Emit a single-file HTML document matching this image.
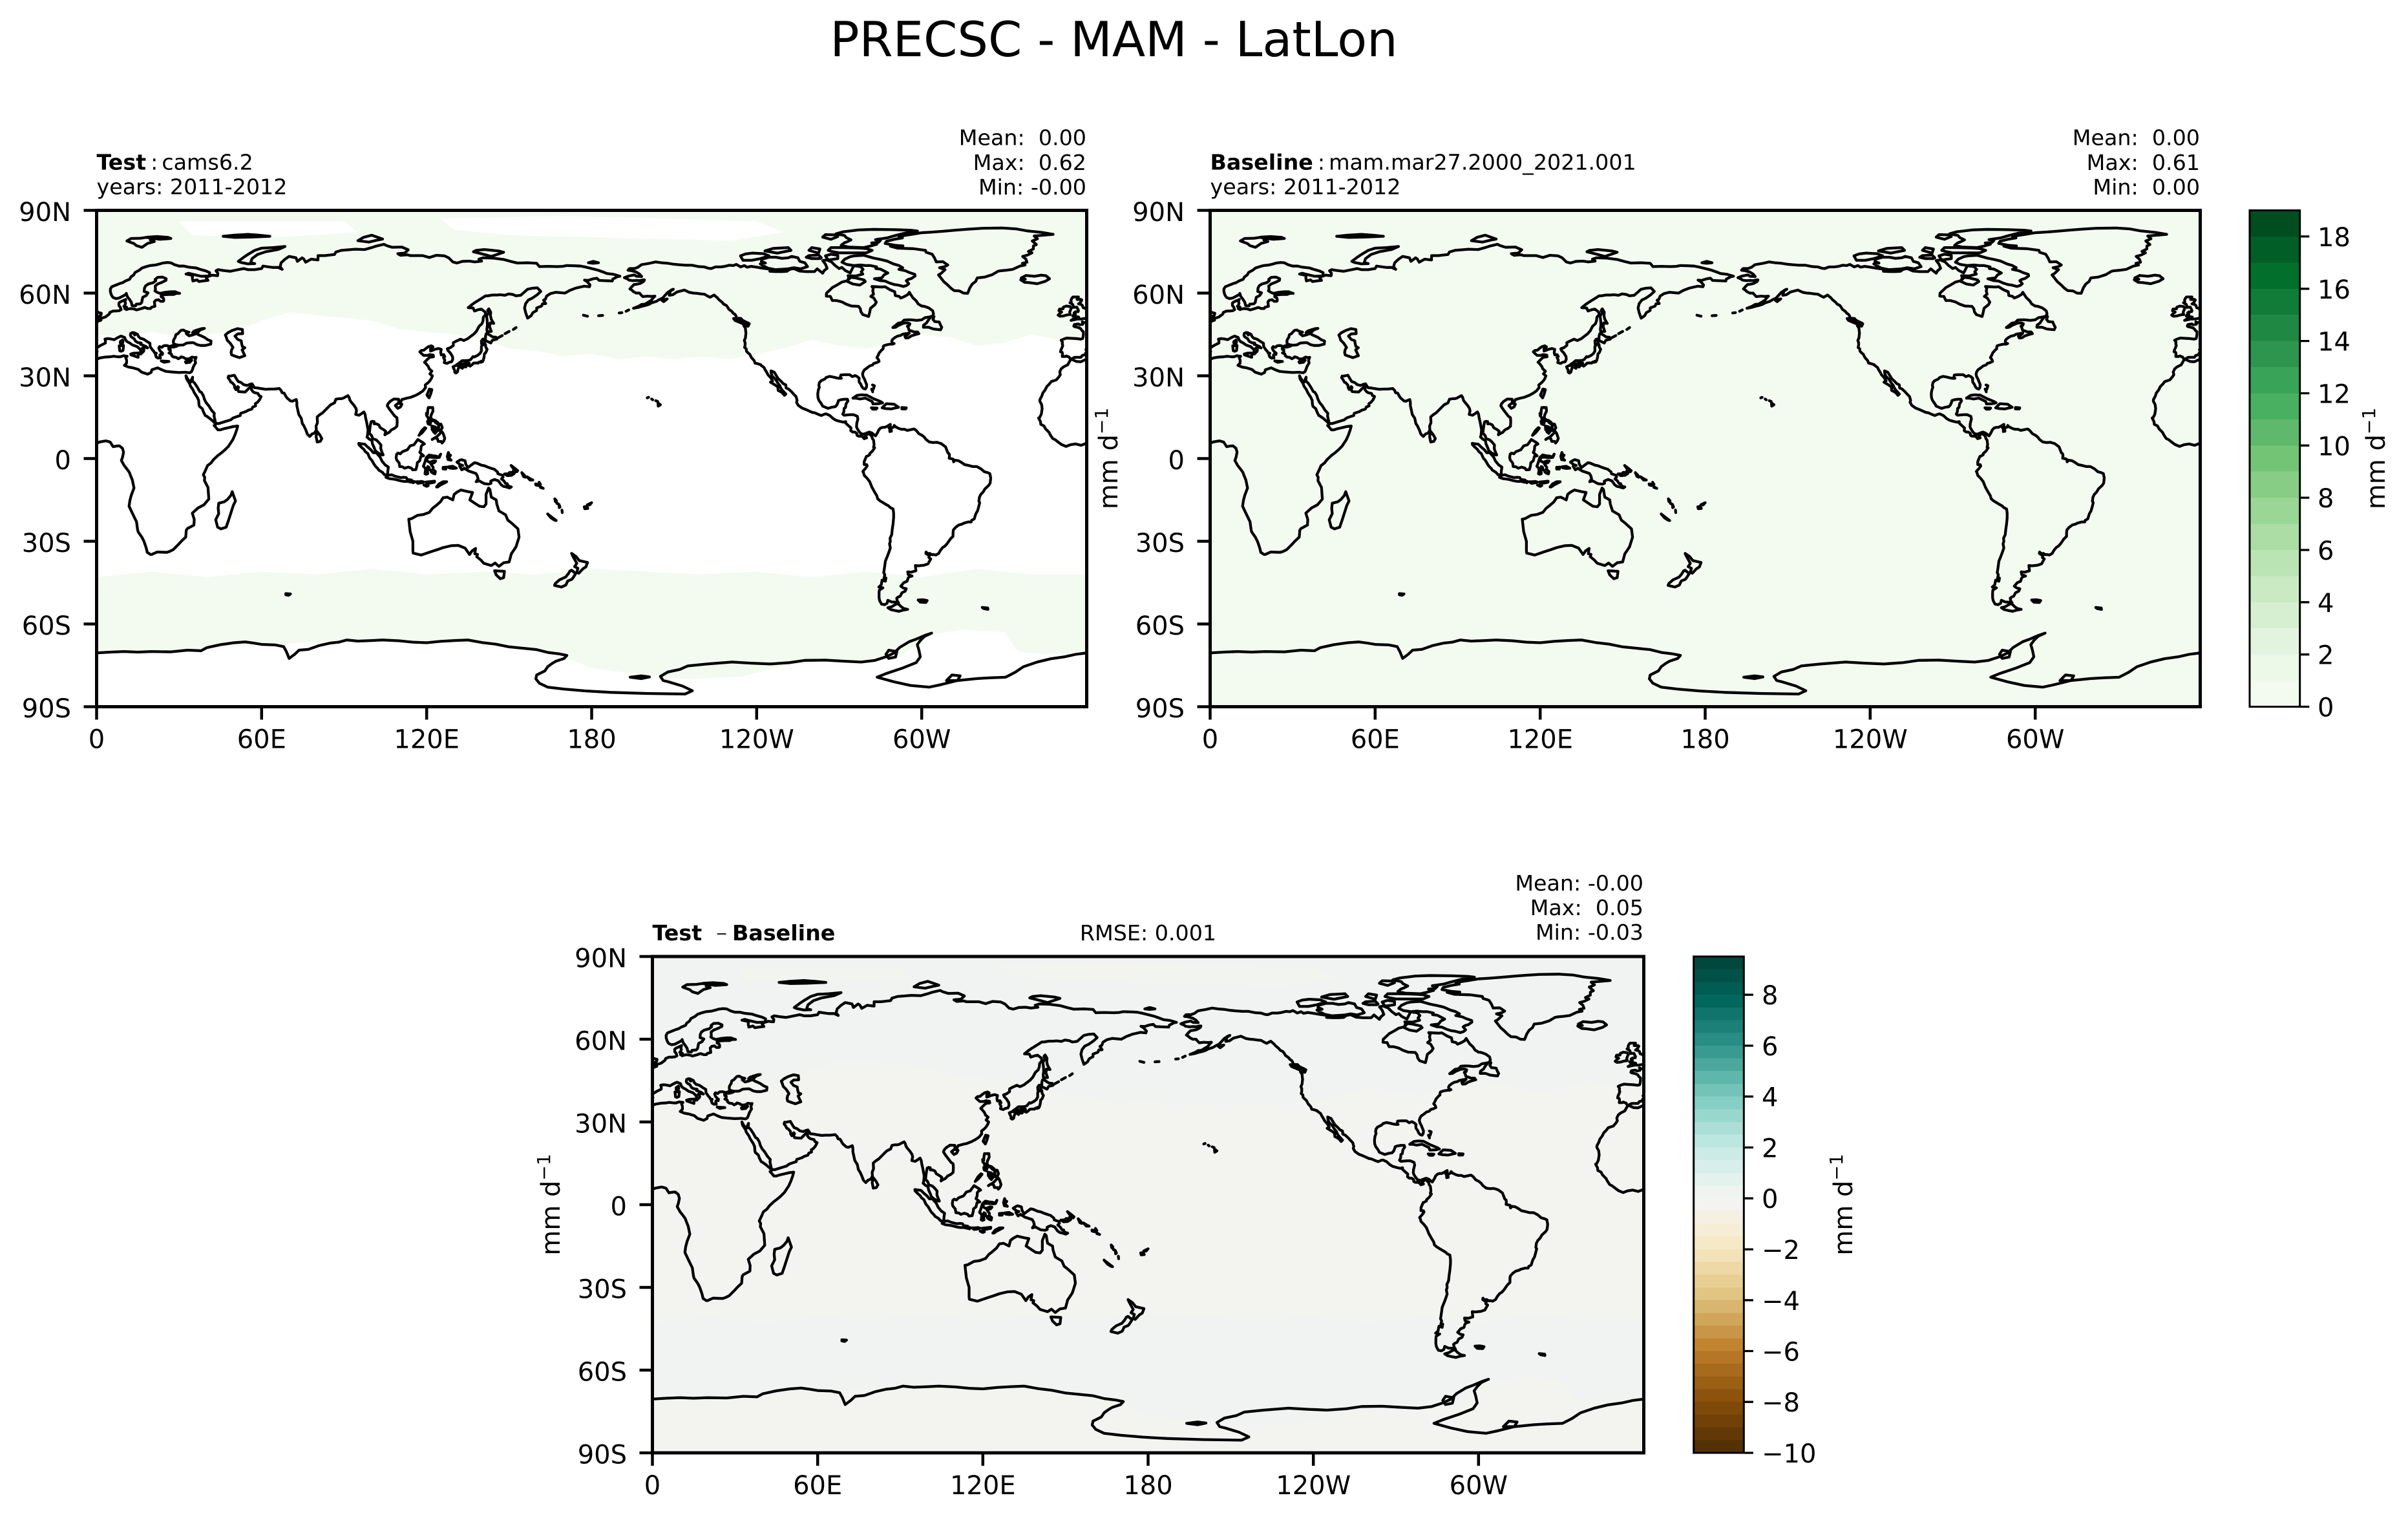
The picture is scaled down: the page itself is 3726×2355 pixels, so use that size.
<!DOCTYPE html>
<html><head><meta charset="utf-8"><style>
html,body{margin:0;padding:0;background:#fff}
svg{display:block}
text{font-family:"DejaVu Sans","Liberation Sans",sans-serif;fill:#000}
</style></head><body>
<svg xmlns="http://www.w3.org/2000/svg" xmlns:xlink="http://www.w3.org/1999/xlink" width="3726" height="2355" viewBox="0 0 3726 2355">
<rect x="0" y="0" width="3726" height="2355" fill="#fff"/>
<defs>
<clipPath id="cp1"><rect x="149.5" y="325.5" width="1532" height="768"/></clipPath>
<clipPath id="cp2"><rect x="1872.5" y="325.5" width="1532" height="768"/></clipPath>
<clipPath id="cp3"><rect x="1009.5" y="1480" width="1534" height="768"/></clipPath>
<g id="coast" fill="none" stroke="#000" stroke-width="1.0" stroke-linejoin="round" stroke-linecap="round">
<polyline points="32.3,31.3 29.9,31.2 27.2,31.4 25.2,31.6 23.9,32.1 22.2,32.9 20.1,32.2 19.8,31.2 18.6,30.6 16.4,31.3 15.2,32.3 13.2,32.9 11.5,33.2 10.1,33.8 10.9,34.6 10.9,35.7 10.6,36.5 11.1,37.1 10.2,37.2 9.8,37.3 8.6,36.9 7.7,36.9 6.2,37.1 4.9,36.9 3.1,36.8 1.3,36.5 -0.6,35.8 -2.1,35.1 -3.7,35.2 -5.3,35.9 -5.9,35.8 -6.4,34.9 -6.9,34.0 -8.5,33.2 -9.3,32.5 -9.8,31.4 -9.6,30.4 -10.2,29.5 -11.1,28.5 -12.9,27.9 -13.6,27.0 -14.5,26.1 -15.1,24.9 -16.0,23.7 -16.3,22.7 -17.0,21.4 -17.05,20.8 -16.4,19.6 -16.2,18.1 -16.5,16.1 -17.1,14.9 -17.5,14.7 -16.8,13.4 -16.7,12.4 -15.5,11.8 -15.0,10.8 -13.7,9.5 -13.2,8.5 -12.4,7.3 -11.4,6.8 -10.8,6.3 -9.2,5.1 -7.5,4.4 -5.9,5.0 -4.0,5.3 -2.0,4.8 -0.2,5.5 1.1,6.0 2.7,6.3 3.4,6.4 4.9,6.0 6.0,4.3 7.1,4.5 8.3,4.6 9.4,3.7 9.8,2.3 9.4,0.4 9.0,-0.7 10.0,-2.5 11.1,-3.9 11.9,-5.0 12.3,-6.1 13.0,-7.8 13.2,-8.8 13.6,-10.7 12.6,-13.3 12.1,-15.2 11.8,-17.3 12.6,-19.0 13.9,-21.7 14.5,-22.9 14.9,-25.8 15.1,-26.6 16.5,-28.6 17.2,-30.0 17.9,-32.0 18.2,-33.1 18.4,-34.0 19.6,-34.8 20.0,-34.8 22.0,-33.9 24.7,-34.0 25.6,-34.0 26.5,-33.7 27.9,-33.0 29.6,-31.3 30.9,-29.9 32.4,-28.5 32.6,-26.0 33.0,-25.4 35.4,-24.1 35.5,-22.1 34.8,-19.8 36.9,-17.9 39.0,-16.8 40.8,-14.7 40.5,-10.5 39.2,-8.0 39.3,-6.8 38.8,-5.9 39.7,-4.0 40.3,-2.6 41.6,-1.6 42.5,-0.4 44.1,1.1 45.3,2.0 46.6,3.1 48.0,4.5 48.5,5.3 49.5,6.8 50.3,8.6 51.0,10.6 51.3,11.8 49.7,11.6 48.0,11.2 45.9,10.7 45.0,10.4 44.1,10.4 43.2,11.5 42.7,12.0 43.3,12.4 43.1,12.7 42.6,13.3 41.2,14.5 40.1,15.3 39.5,15.6 38.9,16.8 38.4,18.1 37.4,18.9 37.2,19.6 37.1,21.1 36.6,22.2 35.5,23.9 35.0,25.0 34.1,26.3 33.8,27.2 32.7,28.9 32.5,30.0"/>
<polyline points="32.5,30.0 32.9,29.2 33.6,28.2 34.3,27.8 34.5,28.6 34.9,29.5 34.8,28.1 35.6,27.4 36.6,25.9 37.5,24.3 38.1,24.0 38.8,22.8 39.2,21.5 39.8,20.3 40.8,19.1 41.8,17.5 42.8,16.4 42.7,15.4 43.0,14.1 43.3,12.7 44.5,12.7 45.1,12.9 46.7,13.4 48.7,14.0 49.6,14.7 51.0,15.2 52.2,15.6 52.4,16.4 54.2,17.0 55.3,17.6 56.4,17.9 56.8,18.7 57.8,19.1 57.7,19.9 58.5,20.4 59.3,21.4 59.8,22.5 59.0,22.9 58.7,23.6 57.4,23.9 56.8,24.3 56.3,25.0 56.4,26.3 56.0,26.0 55.5,25.6 54.7,24.8 54.0,24.1 52.6,24.2 51.6,24.3 51.3,25.0 51.6,25.8 51.3,26.1 50.8,25.5 50.6,25.0 50.2,25.7 50.1,26.6 49.3,27.5 48.8,27.7 48.4,28.5 47.8,29.3 48.0,29.9 48.6,29.9 49.5,30.1 50.1,30.2 50.9,28.8 51.5,27.9 52.5,27.6 53.5,26.8 54.7,26.5 55.7,26.9 56.5,27.1 57.4,25.7 58.5,25.6 59.6,25.4 61.5,25.1 62.9,25.2 64.5,25.2 66.4,25.4 67.1,24.7 67.4,23.9 68.2,23.7 68.8,22.6 69.2,22.0 70.5,20.9 71.2,20.8 72.6,21.4 72.8,20.4 72.8,19.2 73.5,16.0 74.4,14.6 74.8,12.7 75.4,11.8 76.1,10.3 76.6,8.9 77.5,8.0 78.3,8.9 79.2,9.2 79.9,10.3 79.8,11.8 80.3,13.0 80.2,15.1 81.0,15.8 82.2,16.6 83.9,18.3 85.1,19.5 86.5,20.2 87.0,21.5 88.0,21.7 88.9,21.7 89.7,21.9 90.6,22.4 91.4,22.8 91.8,22.2 92.1,21.2 92.4,20.7 92.9,20.1 93.5,19.4 94.3,18.2 94.5,17.3 94.2,16.0 95.4,15.7 96.5,16.4 97.2,16.9 97.6,16.1 97.8,14.8 98.2,13.1 98.5,11.4 98.7,10.4 98.5,8.4 98.3,7.8 99.2,7.0 100.1,6.5 100.3,5.3 100.9,4.0 101.3,2.9 102.1,2.2 103.4,1.4 104.2,1.3 103.6,2.7 103.3,3.7 103.4,4.9 102.4,6.1 101.6,6.8 100.4,7.2 100.0,8.3 99.2,9.2 99.3,10.4 99.5,11.9 99.8,13.3 100.3,13.5 100.9,13.4 100.9,12.6 101.7,12.6 102.6,12.2 103.1,11.2 104.3,10.5 105.1,9.9 104.8,8.6 105.4,9.0 106.4,9.5 107.2,10.4 108.4,11.0 109.2,11.7 109.3,13.4 109.2,14.8 108.4,15.4 107.4,16.7 106.4,18.0 105.7,19.1 105.9,19.8 106.7,20.7 108.1,21.6 109.8,21.5 109.9,20.3 110.5,20.3 111.0,21.4 112.8,21.9 114.2,22.2 116.0,22.9 117.3,23.6 118.6,24.5 119.6,25.7 119.5,26.7 120.4,27.4 121.1,28.1 121.7,29.0 122.1,30.0 121.2,30.7 121.9,31.7 120.9,32.6 120.6,33.4 119.6,34.6 119.2,34.9 120.4,36.1 121.1,36.7 122.5,36.9 122.4,37.5 121.1,37.7 120.3,37.4 118.9,37.4 118.1,38.1 117.5,38.7 118.1,39.2 119.0,39.3 119.7,39.9 120.7,40.6 121.7,40.9 122.3,40.5 121.4,39.8 121.4,39.0 122.1,39.2 122.9,39.6 124.3,39.9 125.3,39.6 125.1,38.5 125.3,37.6 126.2,37.7 126.6,37.0 126.1,36.7 126.6,35.7 126.4,34.8 127.4,34.5 128.2,34.9 129.1,35.1 129.5,36.0 129.4,37.0 128.6,38.3 127.8,39.1 127.5,39.8 128.6,40.2 129.7,41.0 129.7,42.0 130.8,42.6 131.5,42.9 132.3,43.3 133.5,42.8 135.0,43.5 135.5,43.9 137.2,45.2 138.2,46.3 138.6,47.1 139.1,48.0 140.1,48.9 140.5,50.0 140.6,51.2 141.4,52.2 141.3,53.1 139.9,54.2 138.8,54.0 137.4,53.5 136.9,54.6 135.1,54.7 136.7,56.0 137.9,56.8 139.5,57.8 141.4,59.0 142.2,59.0 143.9,59.3 145.5,59.3 146.8,59.4 148.5,59.2 149.8,59.7 151.3,59.5 152.5,59.0 154.2,59.2 155.0,59.9 156.7,61.4 158.6,61.8 160.3,61.9 161.5,60.6 160.2,59.4 158.5,58.2 157.0,57.5 156.0,56.2 155.6,54.6 156.0,52.9 156.7,50.9 158.0,51.8 158.6,52.9 160.0,53.7 160.0,54.6 161.8,55.3 162.1,56.1 163.3,56.2 162.5,57.4 163.2,57.8 163.6,58.9 165.0,59.8 167.0,60.3 170.3,60.0 172.1,61.0 174.2,61.8 177.3,62.5 179.2,62.3 179.4,63.0 178.3,64.2 177.4,64.7 178.7,64.6 180.6,65.2 181.9,65.4 182.7,64.6 184.5,64.5 187.5,64.4 187.7,65.1 188.5,65.5 189.5,66.0 190.3,66.1 188.0,66.8 185.6,67.1 184.3,67.6 182.0,68.4 180.0,68.9 178.0,69.4 176.0,69.8 174.0,69.9 171.0,70.0 169.5,69.7 167.5,69.6 164.0,69.7 161.0,69.6 160.0,70.8 157.0,71.0 153.0,70.9 150.5,71.5 148.0,72.2 144.0,72.7 140.5,72.8 139.0,72.3 140.0,71.6 137.5,71.3 135.5,71.6 133.0,71.5 131.0,70.9 129.5,71.3 128.0,72.8 126.5,73.5 123.5,73.7 121.0,72.9 118.5,73.6 114.0,73.6 113.0,73.9 110.5,73.7 109.5,74.3 112.0,74.5 113.3,75.7 111.0,76.7 107.5,76.6 105.5,77.2 104.5,77.7 101.5,77.0 100.0,76.5 97.5,75.8 94.0,75.9 89.0,75.5 87.0,74.9 86.5,74.0 83.0,73.6 80.5,73.6 80.5,72.0 78.0,72.3 76.0,71.2 75.3,72.4 74.7,72.8 73.0,71.5 72.5,72.8 70.0,73.3 68.5,72.3 67.1,71.0 66.7,69.5 67.5,68.6 66.0,69.3 64.0,69.3 60.5,69.8 60.0,68.9 57.5,68.5 55.0,68.5 53.5,68.9 52.0,68.6 48.5,67.9 46.0,68.2 44.2,68.5 43.4,68.1 44.1,67.2 44.0,66.3 42.0,66.5 40.5,66.0 39.8,65.6 40.5,64.6 39.5,64.5 37.2,64.2 36.5,64.8 35.0,64.4 34.8,65.5 34.9,66.4 32.5,66.9 33.5,67.2 35.0,66.8 38.0,66.1 41.0,66.2 41.1,67.4 39.8,68.0 38.0,68.5 36.2,69.1 33.5,69.4 31.8,69.8 30.0,69.8 28.3,70.3 27.0,71.0 25.7,71.1 24.0,70.9 23.0,70.6 21.5,70.2 19.5,70.0 18.0,69.6 16.5,69.1 15.5,68.3 14.0,67.5 13.5,66.6 12.5,65.9 12.0,65.0 10.5,64.4 9.5,63.8 8.5,63.5 7.0,62.9 5.5,62.3 5.0,61.5 5.0,60.5 5.3,59.5 5.6,58.9 6.0,58.4 7.0,58.0 8.2,58.2 9.5,58.9 10.5,59.4 10.8,59.9 11.0,59.2 11.2,58.7 11.9,57.8 12.6,56.7 12.9,55.5 13.4,55.4 14.2,55.4 14.4,56.0 15.9,56.1 16.4,56.6 16.6,57.7 16.8,58.5 18.0,59.1 18.7,60.1 17.3,60.6 17.4,61.8 17.8,62.6 18.8,63.3 20.6,63.8 21.5,64.5 21.3,65.0 22.2,65.7 24.0,65.8 25.3,65.2 25.2,64.6 23.5,63.8 22.2,63.3 21.3,62.6 21.4,61.4 21.2,60.8 22.0,60.3 23.0,59.9 25.0,60.3 27.0,60.5 28.5,60.5 29.5,60.1 30.2,59.9 29.0,59.9 28.0,59.5 26.5,59.5 24.5,59.4 23.5,59.2 23.5,58.6 24.2,58.3 24.4,57.8 24.4,57.2 24.1,57.0 23.3,57.0 22.5,57.6 21.5,57.4 21.0,56.8 21.1,56.0 21.2,55.2 20.0,54.9 19.6,54.4 18.6,54.4 17.5,54.8 16.0,54.3 14.5,53.9 13.8,54.2 12.5,54.4 11.3,54.2 10.9,54.0 10.2,54.4 10.9,54.9 9.9,55.2 10.3,55.6 10.5,56.3 10.3,56.9 10.6,57.7 9.5,57.2 8.6,56.8 8.1,56.4 8.1,55.5 8.6,54.9 8.9,54.0 8.2,53.6 7.0,53.5 6.0,53.5 4.8,53.0 4.6,52.4 3.8,51.8 3.3,51.4 2.5,51.1 1.6,50.9 1.6,50.2 0.5,49.8 0.1,49.4 -1.0,49.3 -1.6,49.6 -1.4,48.7 -2.5,48.5 -3.0,48.8 -4.5,48.6 -4.7,48.0 -4.3,47.8 -3.0,47.5 -2.2,47.1 -1.8,46.5 -1.2,46.0 -1.2,45.0 -1.3,44.2 -1.5,43.5 -2.2,43.3 -3.8,43.5 -5.6,43.6 -7.2,43.7 -8.2,43.4 -9.3,42.9 -8.8,42.2 -8.9,41.6 -8.7,41.0 -9.0,40.2 -9.4,39.3 -9.5,38.7 -8.9,38.5 -8.8,37.9 -8.9,37.0 -7.9,37.0 -7.4,37.2 -6.4,36.8 -6.2,36.4 -5.6,36.0 -5.3,36.2 -4.4,36.7 -2.1,36.7 -1.6,37.4 -0.7,37.6 -0.3,38.4 0.2,38.8 -0.3,39.5 0.2,40.2 0.9,40.7 1.6,41.1 2.2,41.4 3.2,41.9 3.2,42.9 3.0,43.3 4.0,43.5 5.0,43.4 6.4,43.1 7.4,43.7 8.4,44.2 8.9,44.4 9.7,44.1 10.2,43.9 10.5,43.0 11.1,42.4 12.2,41.8 13.0,41.2 14.1,40.8 14.7,40.6 15.4,40.0 15.8,39.6 16.1,38.9 15.7,38.2 16.1,37.9 16.6,38.4 17.1,38.9 17.2,39.4 16.6,40.0 17.2,40.4 17.9,40.3 18.5,40.1 18.0,40.6 16.9,41.1 16.0,41.4 16.2,41.9 15.1,42.0 14.2,42.5 13.6,43.5 12.6,44.1 12.3,44.6 12.4,45.4 13.1,45.7 13.8,45.6 13.6,45.1 13.9,44.8 14.4,45.3 14.9,45.0 15.2,44.3 15.9,43.6 16.4,43.5 17.2,43.2 18.1,42.6 18.7,42.2 19.4,41.8 19.4,41.3 19.5,40.5 19.9,40.0 20.2,39.5 20.7,39.0 21.1,38.3 21.7,38.2 21.4,37.6 21.7,36.8 22.4,36.4 22.8,36.6 23.2,36.4 23.0,37.5 23.5,38.0 23.9,37.7 24.0,38.2 23.2,38.9 22.8,39.5 22.6,40.1 22.9,40.6 23.7,40.3 24.4,40.9 25.4,41.0 26.1,40.8 26.6,40.6 27.3,40.9 28.0,41.0 29.0,41.1 29.3,40.8 28.0,40.4 27.0,40.4 26.2,40.0 26.3,39.5 26.8,39.4 26.8,38.6 26.3,38.3 27.2,37.9 27.3,37.3 28.0,36.8 28.9,36.7 29.7,36.2 30.5,36.6 30.7,36.9 31.5,36.7 32.5,36.1 33.7,36.2 34.7,36.8 35.6,36.6 36.2,36.7 35.9,36.0 35.8,35.4 36.0,34.7 35.5,33.9 35.1,33.1 34.9,32.4 34.5,31.5 33.8,31.1 32.3,31.3"/>
<polyline points="-168.1,65.6 -166.5,66.2 -164.5,66.6 -163.7,66.1 -161.8,66.0 -162.6,66.9 -163.9,67.7 -165.4,68.1 -166.8,68.3 -166.2,68.9 -164.4,68.9 -163.1,69.4 -161.9,70.3 -159.0,70.8 -156.8,71.3 -154.6,71.0 -152.2,70.8 -150.4,70.5 -148.5,70.3 -145.8,70.1 -143.5,70.1 -141.0,69.6 -139.1,69.5 -137.5,69.0 -136.5,68.9 -135.0,69.5 -133.0,69.5 -131.5,69.7 -130.0,70.1 -128.5,70.0 -127.4,70.4 -125.8,69.5 -124.5,70.0 -123.5,69.4 -122.0,69.7 -120.0,69.4 -117.6,69.0 -116.0,68.8 -114.0,68.3 -115.2,67.9 -113.0,67.8 -110.8,67.8 -109.0,67.9 -108.0,68.6 -106.5,68.9 -104.5,68.0 -102.0,67.8 -99.0,67.8 -98.0,68.8 -96.0,67.2 -95.5,68.1 -94.4,69.0 -95.0,70.5 -96.0,71.8 -94.5,72.0 -92.8,71.3 -91.6,70.1 -90.0,68.9 -89.0,69.3 -87.8,68.2 -86.0,67.3 -84.7,69.9 -82.2,69.6 -81.3,68.6 -82.0,67.7 -81.4,66.9 -84.0,66.2 -86.8,66.3 -86.0,65.5 -87.0,64.5 -89.0,64.0 -91.0,62.8 -92.5,62.0 -93.5,61.0 -94.6,60.0 -94.7,58.9 -93.2,58.8 -92.5,57.3 -90.9,57.3 -89.0,56.8 -87.5,56.0 -85.5,55.3 -83.0,55.2 -82.3,54.3 -82.1,53.2 -81.4,52.2 -80.2,51.8 -79.3,51.5 -79.0,52.6 -78.6,54.5 -77.0,55.8 -76.5,56.7 -77.4,58.2 -78.5,58.8 -77.5,59.6 -77.8,60.8 -77.6,61.7 -78.1,62.4 -76.5,62.3 -74.5,62.2 -73.3,62.3 -71.5,61.2 -69.8,60.5 -69.6,59.1 -68.2,58.8 -67.6,58.2 -66.2,58.8 -65.0,59.5 -64.5,60.3 -64.0,59.5 -63.2,58.3 -62.0,57.2 -61.3,56.1 -60.0,55.3 -59.0,55.2 -57.4,54.6 -56.0,53.6 -55.7,52.5 -56.1,51.6 -57.4,51.3 -58.8,51.1 -60.0,50.3 -61.8,50.1 -63.8,50.3 -65.2,50.3 -66.4,50.2 -67.3,49.3 -68.5,49.1 -69.5,48.3 -70.5,47.5 -69.5,47.6 -68.2,48.4 -66.5,49.1 -65.1,49.2 -64.3,48.9 -64.5,48.3 -65.2,48.0 -64.8,47.3 -64.6,46.5 -63.8,46.3 -62.8,45.9 -61.5,45.9 -61.0,45.3 -62.5,44.9 -63.7,44.5 -64.8,43.8 -65.8,43.7 -66.1,44.3 -65.0,45.0 -64.5,45.5 -65.8,45.3 -66.9,45.1 -67.8,44.6 -68.8,44.4 -69.7,43.9 -70.6,43.2 -70.9,42.6 -70.6,41.8 -70.0,41.7 -70.5,41.5 -71.4,41.5 -72.9,41.2 -73.8,40.9 -74.0,40.5 -74.0,39.8 -74.7,39.2 -75.0,38.8 -75.4,38.4 -75.8,37.5 -76.0,37.1 -76.3,36.6 -75.7,35.9 -75.5,35.2 -76.4,34.8 -77.4,34.5 -77.9,33.9 -78.9,33.6 -79.9,32.8 -80.8,32.2 -81.3,31.4 -81.5,30.6 -81.3,29.7 -80.8,28.8 -80.5,28.0 -80.0,26.8 -80.1,25.8 -80.5,25.2 -81.2,25.4 -81.8,26.1 -82.1,26.9 -82.7,27.7 -82.8,28.5 -82.7,29.1 -83.4,29.7 -84.2,30.1 -85.2,29.7 -86.2,30.4 -87.5,30.4 -88.2,30.4 -89.4,30.3 -89.6,29.4 -89.2,29.1 -90.1,29.1 -91.2,29.3 -92.4,29.6 -93.5,29.8 -94.7,29.4 -95.3,28.8 -96.6,28.2 -97.2,27.5 -97.4,26.5 -97.2,25.9 -97.6,24.8 -97.8,23.4 -97.7,22.0 -97.3,21.0 -96.5,19.9 -96.0,19.0 -94.8,18.5 -94.0,18.2 -92.7,18.6 -91.4,18.8 -90.8,19.5 -90.4,20.5 -90.3,21.0 -89.5,21.3 -88.2,21.5 -87.0,21.5 -86.8,20.9 -87.5,19.8 -87.7,18.5 -88.2,18.2 -88.3,17.0 -88.7,16.1 -88.2,15.7 -87.4,15.8 -86.0,15.9 -84.7,15.9 -83.4,15.3 -83.2,14.3 -83.6,12.8 -83.7,11.5 -83.4,10.8 -82.9,10.0 -82.2,9.1 -81.2,8.8 -79.9,9.3 -79.0,9.6 -78.0,9.2 -77.4,8.7 -76.8,8.2 -76.0,9.5 -75.6,10.4 -74.9,11.1 -74.2,11.3 -73.4,11.3 -72.2,11.9 -71.4,12.4 -71.4,11.3 -71.9,11.1 -71.6,10.8 -71.6,9.8 -71.0,9.9 -71.2,11.0 -70.2,11.4 -70.0,12.0 -69.5,11.5 -68.3,10.9 -67.3,10.6 -66.2,10.6 -65.3,10.2 -64.3,10.4 -63.4,10.6 -62.7,10.7 -62.0,10.2 -61.0,9.0 -60.0,8.5 -59.1,7.8 -58.4,6.9 -57.2,6.0 -55.9,5.8 -54.5,5.9 -53.5,5.6 -52.9,5.4 -51.8,4.6 -51.3,4.2 -50.5,2.1 -50.0,1.7 -49.9,0.9 -50.0,0.1 -48.6,-0.2 -48.4,-1.2 -47.8,-0.6 -46.6,-0.8 -45.4,-1.5 -44.4,-2.2 -43.4,-2.4 -41.5,-2.9 -40.0,-2.9 -38.5,-3.7 -37.2,-4.8 -36.0,-5.1 -35.2,-5.5 -34.9,-7.1 -35.1,-8.9 -35.6,-9.7 -37.0,-11.0 -37.7,-12.2 -38.5,-13.0 -39.0,-14.0 -39.2,-15.5 -38.9,-16.0 -39.3,-17.6 -39.7,-19.0 -40.3,-20.0 -40.9,-21.9 -41.8,-22.4 -42.0,-23.0 -43.1,-23.0 -44.6,-23.4 -45.4,-23.8 -46.5,-24.1 -47.6,-24.9 -48.5,-25.9 -48.6,-27.0 -48.6,-28.2 -49.6,-29.2 -50.7,-30.8 -51.6,-31.8 -52.3,-32.2 -53.2,-33.3 -53.8,-34.4 -54.9,-35.0 -55.7,-34.8 -56.2,-34.9 -57.1,-34.4 -57.8,-34.5 -58.4,-33.9 -58.5,-34.4 -57.2,-35.3 -57.4,-35.9 -56.7,-36.4 -57.7,-38.2 -59.2,-38.7 -61.2,-38.9 -62.3,-38.8 -62.1,-40.7 -63.8,-41.2 -65.1,-41.1 -64.9,-42.1 -63.5,-42.6 -64.6,-42.9 -65.0,-43.5 -65.3,-44.5 -66.5,-45.0 -67.6,-46.3 -66.6,-47.0 -65.6,-47.2 -66.0,-48.1 -67.2,-48.7 -67.8,-49.9 -68.7,-50.3 -69.1,-50.7 -68.8,-51.8 -68.4,-52.3 -69.5,-52.1 -71.0,-52.0 -72.3,-51.4 -72.6,-52.5 -73.5,-53.0 -74.6,-52.8 -75.3,-51.5 -75.5,-50.4 -75.5,-48.7 -75.4,-47.7 -74.1,-46.9 -75.6,-46.6 -74.7,-45.8 -74.4,-44.1 -73.2,-44.5 -73.0,-43.3 -73.7,-43.4 -73.4,-42.1 -73.8,-41.4 -73.5,-39.4 -73.2,-37.2 -72.5,-35.5 -71.9,-33.9 -71.4,-32.4 -71.7,-30.9 -71.4,-30.1 -71.5,-28.9 -70.9,-27.6 -70.7,-25.7 -70.4,-23.6 -70.2,-21.4 -70.2,-19.8 -70.4,-18.3 -71.4,-17.8 -72.0,-17.2 -73.4,-16.4 -75.2,-15.3 -76.0,-14.6 -76.3,-13.5 -77.1,-12.2 -78.1,-10.4 -78.9,-8.4 -79.8,-7.2 -80.9,-6.1 -81.2,-5.0 -81.4,-4.7 -80.3,-3.4 -79.8,-2.7 -80.0,-2.2 -80.9,-2.2 -80.9,-1.1 -80.1,0.8 -79.5,1.0 -78.9,1.4 -78.9,1.8 -77.9,2.7 -77.1,3.9 -77.5,4.1 -77.3,5.0 -77.5,6.7 -77.9,7.2 -78.2,8.3 -78.5,8.4 -79.1,9.0 -79.6,8.9 -80.5,8.1 -80.0,7.5 -80.9,7.2 -81.7,8.1 -82.9,8.1 -83.5,8.4 -83.6,9.1 -84.3,9.6 -85.1,9.6 -85.8,10.1 -85.7,11.1 -86.5,11.8 -87.7,12.9 -87.6,13.4 -88.5,13.2 -89.8,13.5 -91.2,13.9 -92.2,14.5 -93.4,15.6 -94.7,16.2 -95.3,16.1 -96.5,15.6 -97.3,15.9 -98.9,16.6 -99.7,16.7 -101.7,17.6 -103.5,18.3 -104.9,19.3 -105.5,20.4 -105.3,21.1 -105.7,22.5 -106.4,23.2 -107.4,24.3 -108.4,25.2 -109.3,25.6 -109.4,26.7 -110.4,27.2 -111.0,27.9 -112.2,29.0 -113.1,30.5 -113.6,31.3 -114.8,31.8 -114.7,30.9 -114.3,29.8 -113.1,28.7 -112.4,27.5 -111.6,26.5 -111.3,25.7 -110.7,24.8 -110.2,24.3 -109.4,23.4 -109.9,22.9 -110.3,23.4 -111.0,24.1 -112.2,24.7 -112.3,26.0 -113.5,26.8 -114.2,27.2 -115.0,27.7 -114.2,28.1 -114.9,29.3 -115.9,30.4 -116.3,31.2 -117.0,32.3 -117.3,33.0 -118.4,33.8 -118.5,34.0 -119.6,34.4 -120.6,34.6 -120.9,35.5 -121.9,36.6 -122.4,37.6 -122.5,37.8 -123.0,38.2 -123.7,38.9 -123.8,39.8 -124.4,40.3 -124.2,41.1 -124.2,42.0 -124.5,42.8 -124.1,43.7 -123.9,45.5 -124.0,46.3 -124.1,47.3 -124.7,48.2 -123.1,48.0 -122.7,48.9 -123.2,49.2 -124.1,49.6 -125.2,50.2 -125.7,50.8 -127.3,50.9 -127.5,51.7 -127.9,52.3 -128.4,52.6 -129.1,53.4 -130.1,54.1 -130.5,54.8 -131.0,55.5 -132.0,56.0 -132.7,56.8 -133.7,57.6 -134.3,58.3 -135.5,59.3 -136.9,58.5 -137.8,58.9 -139.0,59.6 -140.3,59.7 -141.6,59.9 -143.0,60.0 -144.6,60.3 -146.3,61.1 -147.9,60.7 -149.0,60.4 -150.5,59.4 -151.8,59.2 -151.4,60.7 -150.3,61.4 -150.9,61.2 -152.4,60.2 -153.5,59.0 -154.2,58.2 -155.3,57.7 -156.5,57.0 -158.1,56.5 -159.2,55.9 -160.5,55.5 -161.8,55.2 -163.1,54.8 -164.8,54.5 -163.0,55.2 -161.8,55.9 -160.6,56.0 -159.6,56.6 -158.3,57.4 -157.6,58.3 -157.0,58.9 -158.4,58.8 -159.7,58.9 -161.4,58.7 -162.0,59.3 -162.6,60.0 -163.8,60.0 -164.9,60.6 -165.4,61.1 -166.1,61.5 -165.4,62.3 -164.6,63.1 -163.8,63.2 -162.3,63.5 -161.1,64.2 -160.8,64.8 -161.4,64.8 -162.7,64.5 -163.6,64.6 -165.0,64.5 -166.4,64.7 -166.9,65.1 -168.1,65.6"/>
<polygon points="-68.6,-52.6 -69.5,-52.9 -70.8,-53.7 -72.3,-54.1 -71.2,-54.8 -69.8,-55.1 -68.2,-55.4 -66.9,-55.0 -65.1,-54.7 -66.5,-54.4 -67.6,-53.6"/>
<polygon points="-61.3,-51.3 -59.5,-51.2 -58.0,-51.5 -58.5,-52.2 -60.5,-52.1"/>
<polygon points="-38.0,-54.0 -36.0,-54.2 -35.9,-54.7 -37.5,-54.4"/>
<polygon points="-73.3,78.0 -69.5,77.3 -66.8,77.1 -71.4,77.0 -68.8,76.3 -63,76.1 -58.6,75.5 -58.4,74.8 -56.2,74.1 -55.3,72.7 -54.7,71.3 -52.3,71.4 -50.5,70.2 -51.6,69.6 -53.5,69.2 -51.5,68.5 -53.0,67.1 -53.9,66.6 -53.4,66.0 -52.0,64.2 -50.6,63.0 -49.4,61.8 -48.2,60.9 -46.3,60.8 -44.8,60.0 -43.3,59.9 -43.0,60.6 -42.5,61.9 -41.6,63.3 -40.4,64.2 -39.8,65.5 -37.1,65.8 -34.3,66.7 -32.3,67.9 -31.4,68.1 -29.2,68.3 -26.9,68.6 -24.3,69.8 -22.4,70.2 -23.4,70.8 -21.7,71.2 -22.1,72.3 -23.3,73.3 -21.5,73.8 -19.9,74.6 -21.2,75.1 -19.4,76.0 -19.4,77.1 -18.3,77.6 -19.8,78.9 -17.9,79.7 -19.1,80.7 -15.6,81.0 -12.2,81.3 -16.3,82.0 -21.9,82.6 -25.8,83.3 -30.7,83.6 -38.0,83.5 -42.7,83.2 -46.6,82.9 -52.4,82.4 -56.6,82.1 -60.0,81.9 -63.6,81.3 -66.4,80.9 -68.3,80.2 -67.0,80.0 -70.0,79.5 -72.8,78.8"/>
<polygon points="-64.7,63.4 -65.4,62.8 -66.6,62.4 -68.5,62.9 -70.0,63.1 -71.8,63.7 -73.4,64.4 -75.0,64.5 -77.2,65.2 -74.5,65.5 -73.7,66.6 -72.3,67.3 -73.6,68.0 -75.0,68.7 -76.7,68.9 -76.4,69.5 -78.7,70.0 -80.4,70.0 -82.3,70.2 -84.7,70.0 -87.3,70.4 -89.0,71.2 -88.0,72.3 -86.0,73.2 -84.5,73.5 -81.0,73.7 -77.5,72.7 -75.0,72.2 -72.5,71.6 -70.3,70.6 -68.3,70.0 -66.9,69.2 -68.3,68.6 -65.9,68.1 -64.6,67.5 -62.5,66.8 -62.4,66.2 -63.7,65.3 -64.8,65.0 -65.6,64.5"/>
<polygon points="-79.3,76.9 -81.1,76.5 -86.6,76.7 -89.3,77.3 -88.2,78.2 -87.1,78.6 -85.7,79.3 -87.4,80.1 -88.1,80.9 -91.2,81.5 -88.7,82.2 -82.9,82.9 -77.5,83.1 -69.7,83.0 -63.9,82.8 -61.5,82.5 -66.3,81.7 -70.6,80.6 -72.6,80.0 -76.8,79.4 -75.0,79.1 -75.7,78.4 -78.2,78.2 -76.3,77.7"/>
<polygon points="-90.5,80.5 -93.0,79.5 -96.0,80.3 -95.0,81.2 -91.0,81.1"/>
<polygon points="-80.1,74.6 -85.0,74.6 -90.0,74.6 -92.2,75.0 -94.0,75.5 -93.0,76.5 -89.0,76.5 -85.4,76.4 -82.3,76.3 -80.0,76.1 -78.0,75.5"/>
<polygon points="-101.5,69.6 -104.0,68.8 -106.5,69.2 -108.6,68.8 -113.2,68.5 -115.8,69.0 -117.6,69.9 -118.7,70.6 -116.8,70.9 -118.3,71.5 -118.1,72.3 -115.5,73.0 -113.0,73.0 -110.8,72.6 -108.5,72.8 -107.3,73.3 -105.0,72.8 -104.3,71.5 -102.5,71.0"/>
<polygon points="-121.8,71.9 -125.0,71.9 -125.9,73.5 -124.0,74.2 -121.5,74.5 -117.5,74.3 -115.5,73.5 -118.7,72.5"/>
<polygon points="-97,72.5 -100,72.5 -102,73.0 -101,73.6 -97.5,73.8 -96.5,72.8"/>
<polygon points="-90.5,72.5 -94,72.0 -95,73.5 -93,74.1 -90.5,73.7"/>
<polygon points="-107.5,75.5 -112.5,74.5 -117,75.3 -114,76.2 -108.5,76.5"/>
<polygon points="-97.5,74.5 -101,75.5 -100,76.5 -97,76"/>
<polygon points="-80.5,64.2 -82.5,62.9 -85.0,63.3 -87.0,64.2 -86.5,65.8 -84.0,65.5 -81.0,64.8"/>
<polygon points="-59.4,47.6 -57.5,47.6 -55.8,47.0 -54.1,46.8 -53.1,46.7 -52.7,47.6 -53.2,48.5 -53.6,49.5 -55.3,49.7 -55.9,50.5 -55.5,51.5 -56.5,51.5 -57.3,50.6 -58.3,49.1 -59.3,48.4"/>
<polygon points="-123.4,48.5 -124.6,48.7 -126.0,49.3 -127.9,50.1 -128.4,50.8 -127.0,50.6 -125.3,50.0 -124.0,49.2"/>
<polygon points="-85,21.9 -83.5,22.9 -82,23.1 -80,23 -77.5,21.7 -75,20.7 -74.2,20.2 -75.5,19.9 -77.7,19.8 -78,20.7 -80.5,21.9 -82.5,21.6 -84,21.9"/>
<polygon points="-74.4,18.4 -72.8,19.9 -70,19.7 -68.4,18.6 -71,18 -73,18.1"/>
<polygon points="-78.3,18.4 -76.2,18.3 -76.6,17.9 -77.8,17.9"/>
<polygon points="-67.2,18.5 -65.6,18.4 -65.8,18 -67.2,18"/>
<polyline points="-77.9,26.7 -77.2,26.4 -77.6,25.1"/>
<polyline points="-78.2,25.2 -77.8,24.2"/>
<polyline points="-159.8,22.0 -159.3,22.2"/>
<polyline points="-158.2,21.6 -157.8,21.3"/>
<polyline points="-156.7,21.0 -156.0,20.7"/>
<polygon points="-155.9,20.2 -155.0,19.5 -155.8,19.0"/>
<polyline points="-166.5,53.9 -167.5,53.4"/>
<polyline points="-170,52.8 -169,52.9"/>
<polyline points="-176,51.9 -177.5,51.8"/>
<polygon points="-154.5,57.4 -152.5,57.9 -153.8,56.9"/>
<polygon points="-5.7,50.1 -4.2,50.4 -3.4,50.6 -2.0,50.6 -0.8,50.8 0.3,50.8 1.4,51.2 0.9,51.6 1.6,52.1 1.7,52.7 0.5,53.0 0.1,53.5 -0.2,54.1 -0.6,54.5 -1.3,54.7 -1.6,55.6 -2.1,55.9 -3.0,56.1 -2.6,56.3 -2.1,56.9 -1.8,57.5 -2.1,57.7 -3.5,57.7 -3.0,58.6 -4.5,58.6 -5.0,58.6 -5.4,58.1 -5.7,57.5 -5.6,56.8 -6.1,56.5 -5.6,56.2 -5.1,55.9 -4.9,55.4 -4.8,54.8 -3.6,54.9 -3.3,54.3 -3.0,53.7 -3.1,53.3 -4.1,53.2 -4.6,52.8 -4.1,52.4 -4.9,52.0 -5.1,51.7 -4.2,51.6 -3.4,51.4 -2.9,51.3 -3.4,51.2 -4.4,51.2 -5.0,50.5"/>
<polygon points="-6.0,52.2 -6.2,53.0 -6.0,53.6 -5.6,54.5 -6.0,55.1 -7.4,55.3 -8.5,54.9 -8.6,54.3 -9.9,54.2 -10.1,53.6 -9.1,53.1 -9.8,52.6 -10.4,52.0 -9.7,51.6 -8.5,51.7 -7.5,52.0 -6.4,52.2"/>
<polygon points="-22.5,63.9 -21,63.8 -18,63.4 -15,64.3 -13.5,65.2 -14.8,66.3 -16.5,66.5 -19,66.1 -22,66.4 -23.8,65.5 -22.3,65 -24,64.8"/>
<polygon points="11.0,78.9 12.5,79.8 16.0,79.9 18.0,80.2 21.5,79.9 19.5,79.3 21.0,78.7 18.5,78.0 16.5,76.6 14.5,77.2 13.5,78.0"/>
<polygon points="18.5,80.3 22.0,80.5 26.0,80.2 27.0,79.8 23.0,79.5 20.0,79.9"/>
<polygon points="46.0,80.6 50.0,81.0 55.0,81.3 59.0,81.0 63.0,80.6 56.0,80.3 50.0,80.2"/>
<polygon points="51.5,71.5 53.5,73.0 55.0,74.0 57.5,75.5 60.0,76.3 64.0,76.5 68.5,76.9 66.0,75.8 61.5,75.0 58.5,74.0 56.5,72.5 56.0,71.0 57.5,70.7 55.0,70.6 52.5,71.1"/>
<polygon points="95.0,79.0 97.0,80.2 100.0,81.0 104.0,79.6 102.0,79.2 99.0,78.5"/>
<polygon points="137.0,75.0 141.0,74.0 143.5,73.3 148.0,74.8 146.0,75.3 141.0,75.8 138.0,75.5"/>
<polygon points="178.8,71.0 180.6,71.5 182.5,71.0 180.5,70.8"/>
<polygon points="12.4,37.9 13.4,38.2 15.6,38.3 15.1,37.3 15.1,36.7 12.5,37.6"/>
<polygon points="8.2,40.9 9.8,41 9.6,39.2 8.9,38.9 8.4,39.1"/>
<polygon points="8.6,42.4 9.4,43 9.6,42.2 9.2,41.4 8.6,41.9"/>
<polygon points="23.5,35.4 26.3,35.2 24.5,34.9"/>
<polygon points="32.3,35.1 34.6,35.7 33.9,34.9 32.5,34.7"/>
<polygon points="28.0,41.6 28.9,41.3 29.9,41.1 31.5,41.2 32.8,41.9 34.5,42.0 35.2,42.0 36.5,41.3 37.8,41.0 39.5,41.0 41.5,41.5 41.6,42.6 40.4,43.1 39.1,44.0 38.0,44.5 37.0,44.9 36.6,45.3 35.6,45.1 34.9,44.8 33.6,44.5 32.6,45.3 33.6,45.8 32.2,46.2 31.6,46.6 30.7,46.5 30.0,45.8 29.6,45.3 28.8,44.9 28.6,44.0 28.0,43.0 27.9,42.4"/>
<polygon points="35.0,45.4 36.5,45.4 37.6,46.6 39.2,47.2 38.2,47.1 36.8,46.7 35.4,46.2 34.9,45.7"/>
<polygon points="49.2,46.4 51.2,47.1 53.0,46.8 53.1,45.3 51.3,45.2 50.3,44.4 51.3,43.2 52.6,42.7 52.7,41.8 53.0,40.6 53.9,40.2 52.9,39.4 53.9,37.3 51.9,36.6 50.4,37.1 49.1,37.6 48.9,38.5 49.1,39.5 49.6,40.3 48.6,41.8 47.5,42.9 47.1,44.1 46.8,44.8 47.7,45.6"/>
<polygon points="79.8,8 80.2,9.8 81.2,8.5 81.9,7.2 81.3,6.2 80.2,6"/>
<polygon points="49.3,-12 50.5,-15.4 49.7,-17 48,-22.3 47.1,-24.9 45.2,-25.5 44,-24.9 43.3,-22.2 44.4,-20 44.2,-18 44.4,-16.2 46.4,-15.7 47.6,-14.8 48.8,-13.4"/>
<polygon points="68.8,-49.0 70.5,-49.1 69.8,-49.6 68.8,-49.4"/>
<polygon points="130.9,34.0 131.9,34.7 132.9,35.5 134.0,35.5 135.3,35.6 136.0,35.9 136.9,37.0 137.3,36.8 138.5,37.4 139.4,38.1 139.9,39.0 139.9,40.6 140.3,41.2 141.4,41.4 141.5,40.4 142.0,39.6 141.5,38.4 141.0,38.0 140.9,36.9 140.6,35.7 140.3,35.1 139.8,35.3 139.7,34.9 139.1,35.0 138.7,34.6 138.2,34.7 137.0,34.6 136.8,34.3 135.8,33.5 135.1,33.9 135.5,34.6 134.6,34.7 133.3,34.4 132.2,34.0 131.2,33.9"/>
<polygon points="129.6,33.3 130.3,33.6 131.0,33.9 131.8,33.3 131.4,32.3 131.2,31.4 130.7,31.0 130.2,31.3 130.2,32.0 129.8,32.7"/>
<polygon points="132.2,33.2 133.0,34.0 134.2,34.3 134.7,33.8 134.2,33.2 133.3,33.3 133.0,32.7"/>
<polygon points="140.0,41.4 141.1,41.8 141.0,42.4 141.8,42.6 143.3,41.9 143.9,42.9 145.5,43.3 145.2,44.0 144.0,44.1 142.0,45.4 141.6,45.2 141.4,44.2 141.4,43.4 140.4,43.3 139.9,42.6"/>
<polygon points="142.0,46.0 143.5,46.1 142.9,47.8 143.1,49.2 144.4,49.0 143.5,50.5 143.2,51.8 143.3,53.1 142.6,54.3 142.2,53.8 142.5,52.8 141.8,51.7 142.0,50.0 142.1,48.5 141.9,47.0"/>
<polyline points="146.0,43.8 147.5,44.6"/>
<polyline points="148.5,45.3 150.0,46.1"/>
<polyline points="151.5,46.8 152.5,47.5"/>
<polyline points="177.0,52.0 178.5,51.6"/>
<polygon points="120.1,23 121,25.2 121.9,25 121.5,23.5 120.9,22"/>
<polygon points="108.6,19.2 109.7,20.1 111,19.7 110.5,18.7 109.5,18.2"/>
<polygon points="120.6,18.5 121.3,18.5 122.2,18.5 122.3,17.2 121.7,15.9 121.5,15.1 121.7,14.3 122.4,14.0 123.1,13.8 124.1,13.0 124.0,12.5 123.3,13.0 122.6,13.8 121.5,13.6 120.6,14.2 120.6,14.8 120.0,15.5 119.9,16.4 120.3,16.0 120.4,17.5"/>
<polygon points="120.3,13.5 121.5,13.1 121.2,12.3 120.5,12.6"/>
<polygon points="124.3,12.5 125.2,12.5 125.7,11.2 125.0,10.0 124.3,10.2 124.4,11.5"/>
<polygon points="121.9,11.8 123.1,11.5 122.6,10.6 122.0,10.4"/>
<polygon points="122.9,10.9 123.5,10.8 123.1,9.1 122.4,9.8"/>
<polygon points="123.8,11.2 124.0,10.3 123.4,9.5 123.3,10.0"/>
<polygon points="117.2,8.4 118.5,9.5 119.7,11.0 119.3,11.2 118.2,10.1"/>
<polygon points="122.0,6.9 123.5,7.8 124.0,8.2 124.7,8.9 125.5,9.8 126.0,9.1 126.6,7.3 126.2,6.3 125.6,5.6 125.3,6.2 124.2,6.2 123.9,7.2 122.9,7.5"/>
<polygon points="109.1,1.6 109.6,2.0 110.4,1.7 111.2,2.5 113.0,3.2 114.0,4.6 115.4,5.0 116.2,6.1 116.8,6.9 117.6,6.4 118.6,5.8 119.2,5.3 118.4,4.9 118.0,4.4 117.9,3.1 117.5,2.2 118.9,1.0 117.9,0.8 117.5,-0.8 116.6,-1.5 116.5,-2.5 116.1,-4.0 114.9,-4.1 114.5,-3.5 113.3,-3.1 112.0,-3.5 111.2,-3.0 110.2,-2.9 110.0,-1.6 109.1,-0.5 108.9,0.4"/>
<polygon points="95.3,5.5 95.9,5.4 97.5,5.2 98.4,4.3 99.7,3.2 100.6,2.1 101.7,2.1 103.1,0.5 103.8,-1.0 104.5,-1.8 104.9,-2.3 106.1,-3.1 105.9,-4.3 105.8,-5.9 104.7,-5.9 103.9,-5.0 102.6,-4.2 102.2,-3.6 101.4,-2.8 100.9,-2.1 100.1,-0.7 99.3,0.2 98.6,1.8 97.7,2.5 97.2,3.3 96.4,4.0 95.4,5.0"/>
<polygon points="105.2,-6.8 106.1,-6.0 107.3,-5.9 108.5,-6.4 110.5,-6.9 111.7,-6.8 112.6,-6.9 113.0,-7.6 114.5,-7.8 114.4,-8.6 113.2,-8.3 111.8,-8.3 110.6,-8.1 108.7,-7.6 107.5,-7.4 106.5,-7.3 105.4,-6.9"/>
<polygon points="114.6,-8.1 115.6,-8.4 115.1,-8.8"/>
<polygon points="116.1,-8.4 117.2,-8.4 118.2,-8.3 119.0,-8.5 118.3,-8.8 116.8,-9.0"/>
<polygon points="119.9,-8.5 121.0,-8.4 122.9,-8.2 122.8,-8.6 121.3,-8.9 119.9,-8.8"/>
<polygon points="119.0,-9.6 120.6,-9.8 120.0,-10.1"/>
<polygon points="123.6,-10.3 124.5,-9.2 126.0,-8.4 127.3,-8.4 126.4,-8.9 125.0,-9.6 124.0,-10.3"/>
<polygon points="119.4,-5.5 119.6,-4.1 119.5,-3.5 118.8,-2.8 119.3,-1.5 119.8,0.2 120.1,0.6 120.9,1.3 122.3,1.0 123.4,0.9 124.4,0.5 125.1,1.6 124.6,0.4 123.7,0.3 122.4,0.4 121.0,0.5 120.2,0.2 120.1,-0.8 121.1,-1.4 122.5,-0.8 123.3,-0.9 122.8,-1.5 121.5,-1.9 122.4,-3.2 122.3,-4.0 123.2,-4.7 123.0,-5.6 122.3,-5.3 121.7,-4.9 121.5,-4.2 121.0,-4.0 120.9,-3.2 120.4,-2.9 120.3,-4.2 120.4,-5.5 119.8,-5.7"/>
<polygon points="127.9,2.2 128.2,1.5 127.7,0.9 128.7,1.2 128.0,0.3 128.9,-0.6 127.8,-0.4 127.5,0.8"/>
<polygon points="127.9,-3.0 129.5,-2.8 130.8,-3.5 129.6,-3.6 128.2,-3.4"/>
<polygon points="126.0,-3.2 127.2,-3.1 127.0,-3.8 126.0,-3.8"/>
<polygon points="131.0,-1.3 131.9,-0.7 132.6,-0.4 134.0,-0.8 134.2,-2.0 135.0,-3.3 135.9,-2.6 137.4,-1.5 138.3,-1.7 139.9,-2.4 141.0,-2.6 142.7,-3.3 144.6,-3.9 145.8,-4.9 145.9,-5.5 147.6,-6.1 147.8,-6.7 147.2,-7.4 148.1,-8.1 148.7,-9.1 149.3,-9.1 149.3,-9.5 150.0,-10.1 150.8,-10.3 150.2,-10.7 148.9,-10.3 147.9,-10.1 147.1,-9.5 146.1,-8.1 144.7,-7.6 143.9,-7.9 143.3,-8.2 143.4,-9.0 142.6,-9.3 141.0,-9.1 139.1,-8.1 138.0,-8.4 138.7,-7.3 138.4,-6.2 137.9,-5.4 135.2,-4.5 133.7,-3.5 132.8,-4.1 132.0,-2.8 133.1,-2.5 132.2,-2.2"/>
<polygon points="148.3,-5.6 149.8,-5.5 150.2,-5.0 151.1,-5.1 151.7,-4.2 152.4,-4.3 151.8,-5.5 150.8,-6.1 149.3,-6.2"/>
<polygon points="150.7,-2.5 152.0,-3.5 153.1,-4.4 152.8,-4.8 151.6,-3.7"/>
<polygon points="154.6,-5.1 155.5,-6.0 155.9,-6.8 155.2,-6.5"/>
<polygon points="156.5,-6.6 157.6,-7.3 158.6,-7.8 157.6,-7.8"/>
<polygon points="159.6,-9.2 160.8,-9.4 160.5,-9.8 159.7,-9.6"/>
<polygon points="160.9,-8.6 161.4,-9.4 161.1,-9.2"/>
<polygon points="161.3,-10.2 162.4,-10.8 161.4,-10.5"/>
<polygon points="166.6,-14.6 167.2,-15.3 166.8,-15.6"/>
<polygon points="167.2,-15.9 167.8,-16.5 167.4,-16.3"/>
<polygon points="168.1,-16.6 168.5,-17.6 168.2,-17.8"/>
<polyline points="169.2,-18.7 169.3,-19.6"/>
<polygon points="164.0,-20.1 165.4,-21.2 167.1,-22.5 166.4,-22.3 165.2,-21.5"/>
<polygon points="177.3,-17.5 178.3,-17.4 178.6,-18.1 177.5,-18.2"/>
<polygon points="178.4,-16.8 179.4,-16.3 180.0,-16.0 179.3,-16.8"/>
<polygon points="113.5,-22 114,-26.5 115,-30 115,-33.5 115.1,-34.3 118,-35 121.5,-33.8 124,-33 126,-32.3 129,-31.6 131.5,-31.5 134,-32.5 135.6,-34.8 136.5,-33.5 137.8,-32.6 137.5,-34.5 138.5,-34.8 138.2,-35.6 139.7,-36.8 140.8,-38 143.5,-38.8 144.9,-37.9 146.3,-39.1 148,-37.8 150,-37.5 150.8,-34.5 151.3,-33.8 152.5,-32 153.6,-28.5 153.2,-25.5 151,-23.5 149.5,-22.3 148.7,-20.4 146.3,-19 145.5,-16.5 145.3,-15 143.5,-14 143,-11.2 142.5,-10.7 141.6,-13 141.6,-16.5 140.8,-17.5 139.2,-17.3 137.5,-16.2 135.7,-15 136.7,-12.3 135,-12 132.5,-11.4 131,-12.2 130,-13 129.5,-15 127.5,-14 126,-14.2 125,-15.7 123.5,-17 122.2,-18 121,-19.5 118.8,-20.3 116.7,-20.6 114.5,-21.8"/>
<polygon points="144.7,-40.7 148.3,-40.9 148,-43.2 146.8,-43.6 145.3,-42.2"/>
<polygon points="172.7,-34.4 174.3,-35.5 175.5,-37 178.5,-37.7 177.9,-39.3 176.8,-40 175.3,-41.6 174.6,-41.2 175,-39.8 173.8,-39.2 174.6,-38 173.1,-35.3"/>
<polygon points="172.7,-40.5 174.2,-41.7 173.4,-43 172.8,-43.8 171.3,-44.4 170.6,-45.9 169,-46.6 166.5,-46 166.8,-45.3 168.3,-44 170.5,-43 171.5,-41.8 172.1,-40.8"/>
<polyline points="0,-70.5 5,-70.2 10,-70.0 15,-70.2 20,-70.0 27,-70.1 33,-69.5 38,-69.7 40,-68.6 45,-67.5 50,-66.8 54,-66.5 57,-66.9 60,-67.4 65,-67.6 68,-68.2 69,-70 70,-72.5 72,-71 73.6,-69.5 77,-69.2 81,-67.8 85,-66.9 88,-66.6 91,-65.8 95,-66.2 100,-66.0 104,-65.8 110,-66.1 115,-66.6 120,-66.8 125,-66.3 130,-66.0 135,-65.8 140,-66.7 145,-67.3 150,-68.3 155,-68.8 160,-69.3 164,-70.3 168,-70.8 171,-71.4 170,-72.5 167,-73.5 165.5,-74.4 164,-75.5 163,-77.0 160,-78.5 159.7,-79.9 161,-81.5 164,-82.9 170,-83.6 178,-84.3 187,-84.8 200,-85.2 214,-85.4 216.6,-84.2 213,-82.5 208,-81 206,-80.5 205,-79 207.7,-77.4 212,-76.5 215,-75.2 222,-74.5 231,-73.8 238,-74.2 245,-74.5 252,-74.0 257.5,-73.2 265,-73.1 272,-73.5 278,-73.8 283,-73.2 287,-71.9 290,-70.5 292,-68.5 295.5,-66.4 298,-65.5 301,-64.2 303.6,-63.3 301,-64.5 299.5,-66 298.4,-67.5 299,-69.5 299.5,-71.9 298,-74 293,-76 287,-78 283.8,-79.3 290,-81 296,-82.3 302.8,-82.9 307,-82.0 313,-80.5 320,-79.8 325,-79.5 330.5,-79.3 334,-77.5 337,-75.5 342,-73.8 347,-72.6 352,-71.9 356,-71.0 360,-70.5"/>
<polygon points="194,-79.3 198,-78.8 201,-79.2 198,-79.8"/>
<polygon points="309,-80.5 311,-78.5 314,-78.8 313,-80.5"/>
<polygon points="288,-69.5 291,-70 290.5,-72 288,-72.5 287,-71"/>
</g>
<g id="patch1">
<polygon points="0,90 360,90 360,42 350,43 340,45 330,42 320,41 310,44 300,45 290,42 280,40 270,41 260,43 250,40 240,38 230,36 220,37 210,36 200,37 190,36 180,38 170,37 160,39 150,40 140,43 130,45 120,46 110,47 100,50 90,51 80,52 70,53 60,50 50,46 40,45 30,44 20,46 10,44 0,45"/>
<polygon points="0,-43 20,-41 40,-43 60,-41 80,-42 100,-40 120,-42 140,-41 160,-42 180,-40 200,-41 220,-42 240,-41 260,-43 280,-41 300,-43 320,-40 340,-42 360,-42 360,-70 345,-71 335,-70 330,-63 315,-62 303,-64 292,-72 280,-74 265,-74 250,-75 235,-79 215,-80 195,-78 180,-76 170,-72 160,-69 150,-68 120,-66.5 90,-66 60,-67.5 30,-69.5 0,-71"/>
</g>
<g id="hole1">
<polygon points="125,87 170,88 240,86 250,82 230,79 190,80 150,81 130,83"/>
<polygon points="30,86 90,86 95,82 60,80 35,81"/>
</g>
</defs>

<!-- Panel 1 -->
<g clip-path="url(#cp1)">
<rect x="149.5" y="325.5" width="1532" height="768" fill="#fff"/>
<use href="#patch1" xlink:href="#patch1" fill="#f3fbf1" transform="matrix(4.25556,0,0,-4.26667,149.5,709.5)"/>
<use href="#hole1" xlink:href="#hole1" fill="#fff" transform="matrix(4.25556,0,0,-4.26667,149.5,709.5)"/>
<use href="#coast" xlink:href="#coast" transform="matrix(4.25556,0,0,-4.26667,149.5,709.5)"/>
<use href="#coast" xlink:href="#coast" transform="matrix(4.25556,0,0,-4.26667,1681.5,709.5)"/>
</g>
<rect x="149.5" y="325.5" width="1532" height="768" fill="none" stroke="#000" stroke-width="5"/>

<!-- Panel 2 -->
<g clip-path="url(#cp2)">
<rect x="1872.5" y="325.5" width="1532" height="768" fill="#f3fbf1"/>
<use href="#coast" xlink:href="#coast" transform="matrix(4.25556,0,0,-4.26667,1872.5,709.5)"/>
<use href="#coast" xlink:href="#coast" transform="matrix(4.25556,0,0,-4.26667,3404.5,709.5)"/>
</g>
<rect x="1872.5" y="325.5" width="1532" height="768" fill="none" stroke="#000" stroke-width="5"/>

<!-- Panel 3 -->
<g clip-path="url(#cp3)">
<rect x="1009.5" y="1480" width="1534" height="768" fill="#f3f3ef"/>
<use href="#patch1" xlink:href="#patch1" fill="#f0f3f2" transform="matrix(4.26111,0,0,-4.26667,1009.5,1864)"/>
<use href="#hole1" xlink:href="#hole1" fill="#f3f3ef" transform="matrix(4.26111,0,0,-4.26667,1009.5,1864)"/>
<use href="#coast" xlink:href="#coast" transform="matrix(4.26111,0,0,-4.26667,1009.5,1864)"/>
<use href="#coast" xlink:href="#coast" transform="matrix(4.26111,0,0,-4.26667,2543.5,1864)"/>
</g>
<rect x="1009.5" y="1480" width="1534" height="768" fill="none" stroke="#000" stroke-width="5"/>

<!-- Axis ticks -->
<g stroke="#000" stroke-width="4.5">
<path d="M129.5,325.5H149.5M129.5,453.5H149.5M129.5,581.5H149.5M129.5,709.5H149.5M129.5,837.5H149.5M129.5,965.5H149.5M129.5,1093.5H149.5"/>
<path d="M149.5,1093.5V1113.5M404.8,1093.5V1113.5M660.2,1093.5V1113.5M915.5,1093.5V1113.5M1170.8,1093.5V1113.5M1426.2,1093.5V1113.5"/>
<path d="M1852.5,325.5H1872.5M1852.5,453.5H1872.5M1852.5,581.5H1872.5M1852.5,709.5H1872.5M1852.5,837.5H1872.5M1852.5,965.5H1872.5M1852.5,1093.5H1872.5"/>
<path d="M1872.5,1093.5V1113.5M2127.8,1093.5V1113.5M2383.2,1093.5V1113.5M2638.5,1093.5V1113.5M2893.8,1093.5V1113.5M3149.2,1093.5V1113.5"/>
<path d="M989.5,1480H1009.5M989.5,1608H1009.5M989.5,1736H1009.5M989.5,1864H1009.5M989.5,1992H1009.5M989.5,2120H1009.5M989.5,2248H1009.5"/>
<path d="M1009.5,2248V2268M1265.2,2248V2268M1520.8,2248V2268M1776.5,2248V2268M2032.2,2248V2268M2287.8,2248V2268"/>
</g>

<!-- Tick labels -->
<g font-size="40" text-anchor="end">
<text x="110" y="342">90N</text><text x="110" y="470">60N</text><text x="110" y="598">30N</text><text x="110" y="726">0</text><text x="110" y="854">30S</text><text x="110" y="982">60S</text><text x="110" y="1110">90S</text>
<text x="1833" y="342">90N</text><text x="1833" y="470">60N</text><text x="1833" y="598">30N</text><text x="1833" y="726">0</text><text x="1833" y="854">30S</text><text x="1833" y="982">60S</text><text x="1833" y="1110">90S</text>
<text x="970" y="1496.5">90N</text><text x="970" y="1624.5">60N</text><text x="970" y="1752.5">30N</text><text x="970" y="1880.5">0</text><text x="970" y="2008.5">30S</text><text x="970" y="2136.5">60S</text><text x="970" y="2264.5">90S</text>
</g>
<g font-size="40" text-anchor="middle">
<text x="149.5" y="1157.5">0</text><text x="404.8" y="1157.5">60E</text><text x="660.2" y="1157.5">120E</text><text x="915.5" y="1157.5">180</text><text x="1170.8" y="1157.5">120W</text><text x="1426.2" y="1157.5">60W</text>
<text x="1872.5" y="1157.5">0</text><text x="2127.8" y="1157.5">60E</text><text x="2383.2" y="1157.5">120E</text><text x="2638.5" y="1157.5">180</text><text x="2893.8" y="1157.5">120W</text><text x="3149.2" y="1157.5">60W</text>
<text x="1009.5" y="2312">0</text><text x="1265.2" y="2312">60E</text><text x="1520.8" y="2312">120E</text><text x="1776.5" y="2312">180</text><text x="2032.2" y="2312">120W</text><text x="2287.8" y="2312">60W</text>
</g>

<!-- Titles -->
<text x="1723.5" y="87" font-size="75" text-anchor="middle">PRECSC - MAM - LatLon</text>
<g font-size="33.3">
<text x="149.5" y="262.7"><tspan font-weight="bold">Test</tspan><tspan dx="7">:</tspan><tspan dx="6">cams6.2</tspan></text>
<text x="149.5" y="300.7">years: 2011-2012</text>
<text x="1872.5" y="262.7"><tspan font-weight="bold">Baseline</tspan><tspan dx="7">:</tspan><tspan dx="6">mam.mar27.2000_2021.001</tspan></text>
<text x="1872.5" y="300.7">years: 2011-2012</text>
<text x="1009.5" y="1455" font-weight="bold">Test</text>
<text x="1107.5" y="1452" font-size="22">−</text>
<text x="1133" y="1455" font-weight="bold">Baseline</text>
<text x="1776.5" y="1455" text-anchor="middle">RMSE: 0.001</text>
</g>
<g font-size="33.3" text-anchor="end">
<text x="1681" y="224.5">Mean:&#160;&#160;0.00</text>
<text x="1681" y="263">Max:&#160;&#160;0.62</text>
<text x="1681" y="301">Min: -0.00</text>
<text x="3404" y="224.5">Mean:&#160;&#160;0.00</text>
<text x="3404" y="263">Max:&#160;&#160;0.61</text>
<text x="3404" y="301">Min:&#160;&#160;0.00</text>
<text x="2543" y="1378">Mean: -0.00</text>
<text x="2543" y="1416">Max:&#160;&#160;0.05</text>
<text x="2543" y="1454">Min: -0.03</text>
</g>

<!-- Y axis labels -->
<text font-size="40" text-anchor="middle" transform="translate(1729,709.5) rotate(-90)">mm d<tspan font-size="28" dy="-15">−1</tspan></text>
<text font-size="40" text-anchor="middle" transform="translate(866,1864) rotate(-90)">mm d<tspan font-size="28" dy="-15">−1</tspan></text>

<!-- Colorbar 1 -->
<g transform="translate(3481,325.5) scale(1,40.4211)" shape-rendering="crispEdges">
<rect x="0" y="0" width="77.7" height="1.03" fill="#004d1f"/>
<rect x="0" y="1" width="77.7" height="1.03" fill="#005e26"/>
<rect x="0" y="2" width="77.7" height="1.03" fill="#026f2d"/>
<rect x="0" y="3" width="77.7" height="1.03" fill="#117b38"/>
<rect x="0" y="4" width="77.7" height="1.03" fill="#1f8842"/>
<rect x="0" y="5" width="77.7" height="1.03" fill="#2d954d"/>
<rect x="0" y="6" width="77.7" height="1.03" fill="#39a357"/>
<rect x="0" y="7" width="77.7" height="1.03" fill="#49af61"/>
<rect x="0" y="8" width="77.7" height="1.03" fill="#5fb96c"/>
<rect x="0" y="9" width="77.7" height="1.03" fill="#74c476"/>
<rect x="0" y="10" width="77.7" height="1.03" fill="#87cd86"/>
<rect x="0" y="11" width="77.7" height="1.03" fill="#9ad695"/>
<rect x="0" y="12" width="77.7" height="1.03" fill="#abdda5"/>
<rect x="0" y="13" width="77.7" height="1.03" fill="#bbe4b4"/>
<rect x="0" y="14" width="77.7" height="1.03" fill="#caeac3"/>
<rect x="0" y="15" width="77.7" height="1.03" fill="#d7efd1"/>
<rect x="0" y="16" width="77.7" height="1.03" fill="#e3f4de"/>
<rect x="0" y="17" width="77.7" height="1.03" fill="#ecf8e8"/>
<rect x="0" y="18" width="77.7" height="1" fill="#f3fbf1"/>
</g>
<rect x="3481" y="325.5" width="77.7" height="768" fill="none" stroke="#000" stroke-width="3"/>
<g stroke="#000" stroke-width="3.3">
<path d="M3558.7,1093.5h14.6M3558.7,1012.7h14.6M3558.7,931.8h14.6M3558.7,851h14.6M3558.7,770.1h14.6M3558.7,689.3h14.6M3558.7,608.5h14.6M3558.7,527.6h14.6M3558.7,446.8h14.6M3558.7,365.9h14.6"/>
</g>
<g font-size="40">
<text x="3586" y="1108.5">0</text><text x="3586" y="1027.7">2</text><text x="3586" y="946.8">4</text><text x="3586" y="866">6</text><text x="3586" y="785.1">8</text><text x="3586" y="704.3">10</text><text x="3586" y="623.5">12</text><text x="3586" y="542.6">14</text><text x="3586" y="461.8">16</text><text x="3586" y="380.9">18</text>
</g>
<text font-size="40" text-anchor="middle" transform="translate(3690,709.5) rotate(-90)">mm d<tspan font-size="28" dy="-15">−1</tspan></text>

<!-- Colorbar 2 -->
<g transform="translate(2620.7,1480) scale(1,19.6923)" shape-rendering="crispEdges">
<rect x="0" y="0" width="77.6" height="1.05" fill="#00473c"/>
<rect x="0" y="1" width="77.6" height="1.05" fill="#005248"/>
<rect x="0" y="2" width="77.6" height="1.05" fill="#015c53"/>
<rect x="0" y="3" width="77.6" height="1.05" fill="#02675f"/>
<rect x="0" y="4" width="77.6" height="1.05" fill="#10746c"/>
<rect x="0" y="5" width="77.6" height="1.05" fill="#1d8078"/>
<rect x="0" y="6" width="77.6" height="1.05" fill="#2a8d85"/>
<rect x="0" y="7" width="77.6" height="1.05" fill="#399a92"/>
<rect x="0" y="8" width="77.6" height="1.05" fill="#4ca89e"/>
<rect x="0" y="9" width="77.6" height="1.05" fill="#5fb6ab"/>
<rect x="0" y="10" width="77.6" height="1.05" fill="#73c3b8"/>
<rect x="0" y="11" width="77.6" height="1.05" fill="#86cfc4"/>
<rect x="0" y="12" width="77.6" height="1.05" fill="#98d7cd"/>
<rect x="0" y="13" width="77.6" height="1.05" fill="#aaded6"/>
<rect x="0" y="14" width="77.6" height="1.05" fill="#bce6e0"/>
<rect x="0" y="15" width="77.6" height="1.05" fill="#ccebe7"/>
<rect x="0" y="16" width="77.6" height="1.05" fill="#d8eeeb"/>
<rect x="0" y="17" width="77.6" height="1.05" fill="#e3f1ef"/>
<rect x="0" y="18" width="77.6" height="1.05" fill="#eff4f3"/>
<rect x="0" y="19" width="77.6" height="1.05" fill="#f5f3ef"/>
<rect x="0" y="20" width="77.6" height="1.05" fill="#f5f0e2"/>
<rect x="0" y="21" width="77.6" height="1.05" fill="#f6edd5"/>
<rect x="0" y="22" width="77.6" height="1.05" fill="#f6e9c8"/>
<rect x="0" y="23" width="77.6" height="1.05" fill="#f3e2b8"/>
<rect x="0" y="24" width="77.6" height="1.05" fill="#edd8a6"/>
<rect x="0" y="25" width="77.6" height="1.05" fill="#e7cf94"/>
<rect x="0" y="26" width="77.6" height="1.05" fill="#e1c582"/>
<rect x="0" y="27" width="77.6" height="1.05" fill="#d9b66f"/>
<rect x="0" y="28" width="77.6" height="1.05" fill="#d1a65a"/>
<rect x="0" y="29" width="77.6" height="1.05" fill="#c99546"/>
<rect x="0" y="30" width="77.6" height="1.05" fill="#c18431"/>
<rect x="0" y="31" width="77.6" height="1.05" fill="#b57726"/>
<rect x="0" y="32" width="77.6" height="1.05" fill="#a86b1d"/>
<rect x="0" y="33" width="77.6" height="1.05" fill="#9a5f14"/>
<rect x="0" y="34" width="77.6" height="1.05" fill="#8d520b"/>
<rect x="0" y="35" width="77.6" height="1.05" fill="#7f4909"/>
<rect x="0" y="36" width="77.6" height="1.05" fill="#714108"/>
<rect x="0" y="37" width="77.6" height="1.05" fill="#623806"/>
<rect x="0" y="38" width="77.6" height="1" fill="#543005"/>
</g>
<rect x="2620.7" y="1480" width="77.6" height="768" fill="none" stroke="#000" stroke-width="3"/>
<g stroke="#000" stroke-width="3.3">
<path d="M2698.3,2248h14.6M2698.3,2169.2h14.6M2698.3,2090.5h14.6M2698.3,2011.8h14.6M2698.3,1933.1h14.6M2698.3,1854.2h14.6M2698.3,1775.5h14.6M2698.3,1696.7h14.6M2698.3,1618h14.6M2698.3,1539.2h14.6"/>
</g>
<g font-size="40">
<text x="2726" y="2263">−10</text><text x="2726" y="2184.2">−8</text><text x="2726" y="2105.5">−6</text><text x="2726" y="2026.8">−4</text><text x="2726" y="1948.1">−2</text><text x="2726" y="1869.2">0</text><text x="2726" y="1790.5">2</text><text x="2726" y="1711.7">4</text><text x="2726" y="1633">6</text><text x="2726" y="1554.2">8</text>
</g>
<text font-size="40" text-anchor="middle" transform="translate(2866,1864) rotate(-90)">mm d<tspan font-size="28" dy="-15">−1</tspan></text>
</svg>
</body></html>
